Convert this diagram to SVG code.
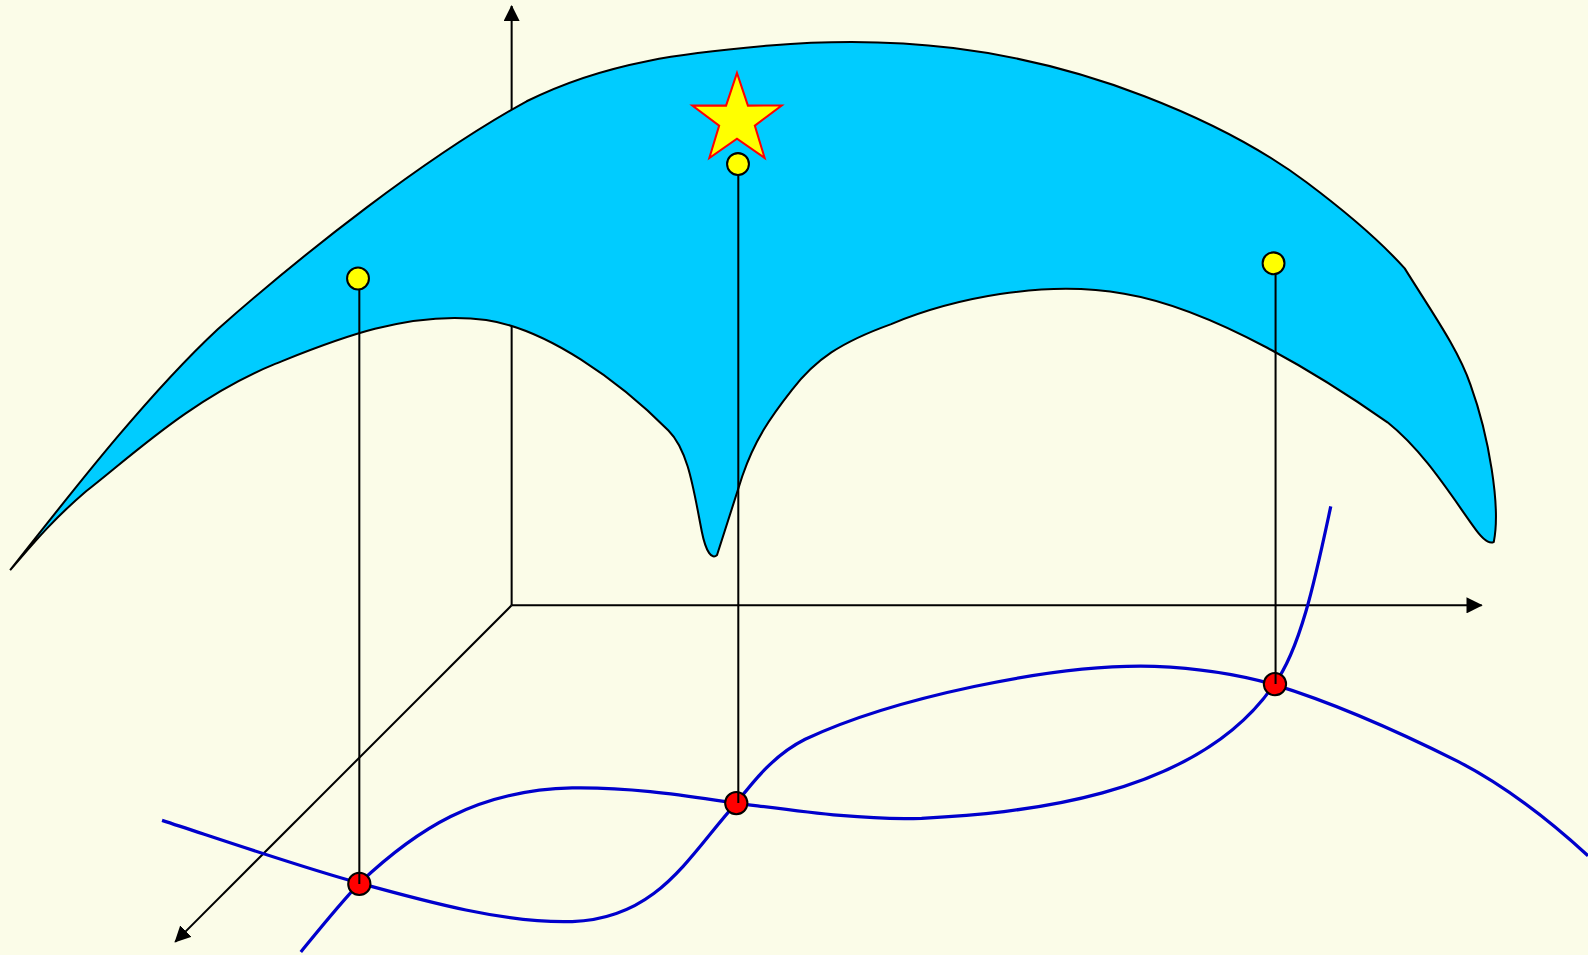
<svg xmlns="http://www.w3.org/2000/svg" width="1588" height="955" viewBox="0 0 1588 955">
<style>
.axis{stroke:#000;stroke-width:2;fill:none}
.drop{stroke:#000;stroke-width:2;fill:none}
.curve{stroke:#0000CC;stroke-width:3.2;fill:none}
.surf{fill:#00CCFF;stroke:#000;stroke-width:2}
.ydot{fill:#FFFF00;stroke:#000;stroke-width:2}
.rdot{fill:#FF0000;stroke:#000;stroke-width:2}
.star{fill:#FFFF00;stroke:#FF0000;stroke-width:2}
</style>
<defs>
<marker id="arr" viewBox="0 0 16 16" refX="15" refY="8" markerWidth="16" markerHeight="16" markerUnits="userSpaceOnUse" orient="auto">
<path d="M0,0 L16,8 L0,16 Z" fill="#000"/>
</marker>
</defs>
<rect width="1588" height="955" fill="#FBFCE8"/>
<g transform="scale(1.01276)">
<g id="axes">
<line class="axis" x1="505.2" y1="597.7" x2="505.2" y2="6" marker-end="url(#arr)"/>
<line class="axis" x1="505.2" y1="597.7" x2="1463" y2="597.7" marker-end="url(#arr)"/>
<line class="axis" x1="505.2" y1="597.7" x2="173" y2="930" marker-end="url(#arr)"/>
</g>
<path id="surface" class="surf" d="M10,563 C60,500 140,395 215,325 C300,250 420,155 520,100 C600,60 680,52 760,45 C880,35 1000,45 1130,95 C1200,122 1250,150 1290,180 C1330,210 1360,235 1387,265 C1415,310 1440,345 1452,380 C1470,430 1482,500 1475,535 C1470,538 1462,530 1455,520 C1430,485 1405,445 1370,417 C1310,375 1200,305 1110,290 C1030,276 940,295 880,320 C830,338 805,355 782,385 C760,413 745,435 733,470 L708,548 C703,553 697,545 693,525 C685,485 680,445 660,425 C610,375 540,325 480,316 C400,305 320,340 270,360 C190,393 130,450 85,485 C50,515 30,540 10,563 Z"/>
<g id="curves">
<path class="curve" d="M160,810 C230,833 300,857 355,872 C420,890 500,912 565,910 C650,907 680,845 727,793 C745,770 765,745 795,730 C880,690 1040,655 1140,658 C1190,660 1230,668 1258,676 C1320,695 1380,722 1440,752 C1490,778 1530,810 1568,845"/>
<path class="curve" d="M297,940 C315,918 335,893 355,872 C410,820 470,780 565,778 C630,777 690,788 727,793 C790,801 850,810 910,808 C1000,803 1180,790 1258,676 C1285,640 1300,565 1314,500"/>
</g>
<g id="red-dots">
<circle class="rdot" cx="354.8" cy="872.8" r="11"/>
<circle class="rdot" cx="727" cy="793" r="11"/>
<circle class="rdot" cx="1258.9" cy="675.5" r="11"/>
</g>
<g id="drops">
<line class="drop" x1="354.8" y1="275" x2="354.8" y2="872.8"/>
<line class="drop" x1="729" y1="162" x2="729" y2="793"/>
<line class="drop" x1="1259.5" y1="260" x2="1259.5" y2="675.5"/>
</g>
<g id="yellow-dots">
<circle class="ydot" cx="353.5" cy="275" r="10.8"/>
<circle class="ydot" cx="728.7" cy="162" r="10.8"/>
<circle class="ydot" cx="1257.5" cy="260" r="10.8"/>
</g>
<polygon id="star" class="star" points="727.7,72.1 738.5,104.3 771.8,104.2 745.3,124 755,156 727.7,137 700.4,156 710.1,124 683.6,104.2 716.9,104.3"/>
</g>
</svg>
